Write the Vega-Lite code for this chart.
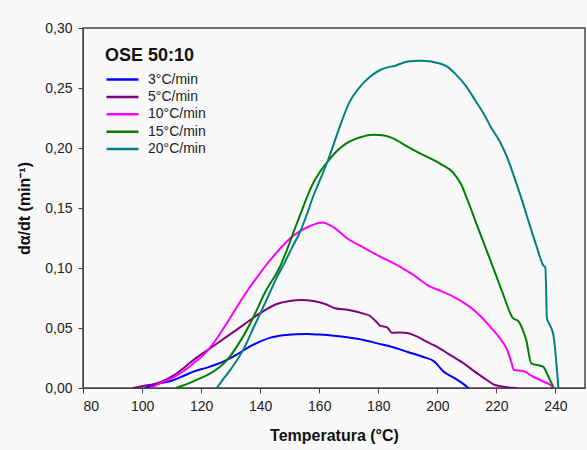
{
  "$schema": "https://vega.github.io/schema/vega-lite/v6.json",
  "autosize": {"type": "none"},
  "padding": {"left": 83, "top": 28, "right": 2, "bottom": 62},
  "width": 502,
  "height": 360,
  "background": "#f9f9f9",
  "config": {
    "font": "Liberation Sans",
    "view": {"stroke": "#444444", "strokeWidth": 1.5},
    "axis": {"grid": false, "domainColor": "#444444", "tickColor": "#444444", "tickSize": 5, "labelFontSize": 14, "labelColor": "#222222", "titleFontSize": 16, "titleFontWeight": "bold", "titleColor": "#111111"}
  },
  "data": {"values": [
    {"T":101,"r":0,"s":"3°C/min"},{"T":106,"r":0.004,"s":"3°C/min"},{"T":110,"r":0.006,"s":"3°C/min"},{"T":114,"r":0.010,"s":"3°C/min"},{"T":117.4,"r":0.0136,"s":"3°C/min"},{"T":122,"r":0.017,"s":"3°C/min"},{"T":127.5,"r":0.022,"s":"3°C/min"},{"T":131.5,"r":0.027,"s":"3°C/min"},{"T":135.4,"r":0.033,"s":"3°C/min"},{"T":139.9,"r":0.0386,"s":"3°C/min"},{"T":143.5,"r":0.042,"s":"3°C/min"},{"T":147.8,"r":0.044,"s":"3°C/min"},{"T":152,"r":0.0448,"s":"3°C/min"},{"T":156,"r":0.045,"s":"3°C/min"},{"T":160,"r":0.0445,"s":"3°C/min"},{"T":165,"r":0.0435,"s":"3°C/min"},{"T":170,"r":0.042,"s":"3°C/min"},{"T":175,"r":0.040,"s":"3°C/min"},{"T":180,"r":0.037,"s":"3°C/min"},{"T":185,"r":0.034,"s":"3°C/min"},{"T":190,"r":0.030,"s":"3°C/min"},{"T":195,"r":0.026,"s":"3°C/min"},{"T":199,"r":0.022,"s":"3°C/min"},{"T":200.5,"r":0.018,"s":"3°C/min"},{"T":202,"r":0.014,"s":"3°C/min"},{"T":206,"r":0.008,"s":"3°C/min"},{"T":209,"r":0.003,"s":"3°C/min"},{"T":210.5,"r":0,"s":"3°C/min"},

    {"T":97,"r":0,"s":"5°C/min"},{"T":100,"r":0.0015,"s":"5°C/min"},{"T":106,"r":0.0047,"s":"5°C/min"},{"T":111,"r":0.011,"s":"5°C/min"},{"T":117.4,"r":0.0233,"s":"5°C/min"},{"T":123,"r":0.033,"s":"5°C/min"},{"T":128.7,"r":0.0428,"s":"5°C/min"},{"T":134,"r":0.052,"s":"5°C/min"},{"T":139.9,"r":0.0622,"s":"5°C/min"},{"T":145.6,"r":0.0700,"s":"5°C/min"},{"T":150,"r":0.0725,"s":"5°C/min"},{"T":154,"r":0.0733,"s":"5°C/min"},{"T":158,"r":0.0725,"s":"5°C/min"},{"T":162,"r":0.070,"s":"5°C/min"},{"T":165.3,"r":0.0665,"s":"5°C/min"},{"T":170,"r":0.065,"s":"5°C/min"},{"T":175,"r":0.062,"s":"5°C/min"},{"T":177.2,"r":0.060,"s":"5°C/min"},{"T":179,"r":0.056,"s":"5°C/min"},{"T":180.6,"r":0.052,"s":"5°C/min"},{"T":183,"r":0.0505,"s":"5°C/min"},{"T":184.6,"r":0.046,"s":"5°C/min"},{"T":187,"r":0.0462,"s":"5°C/min"},{"T":189,"r":0.046,"s":"5°C/min"},{"T":193,"r":0.043,"s":"5°C/min"},{"T":196,"r":0.039,"s":"5°C/min"},{"T":199.8,"r":0.0345,"s":"5°C/min"},{"T":204,"r":0.028,"s":"5°C/min"},{"T":208.9,"r":0.0206,"s":"5°C/min"},{"T":213,"r":0.013,"s":"5°C/min"},{"T":216.8,"r":0.0067,"s":"5°C/min"},{"T":219,"r":0.003,"s":"5°C/min"},{"T":221.3,"r":0.0014,"s":"5°C/min"},{"T":224,"r":0.0005,"s":"5°C/min"},{"T":227,"r":0,"s":"5°C/min"},

    {"T":102.7,"r":0,"s":"10°C/min"},{"T":106.1,"r":0.0039,"s":"10°C/min"},{"T":110,"r":0.008,"s":"10°C/min"},{"T":114,"r":0.014,"s":"10°C/min"},{"T":117.4,"r":0.0206,"s":"10°C/min"},{"T":121,"r":0.028,"s":"10°C/min"},{"T":124.1,"r":0.037,"s":"10°C/min"},{"T":128.7,"r":0.054,"s":"10°C/min"},{"T":134.3,"r":0.076,"s":"10°C/min"},{"T":139.9,"r":0.0956,"s":"10°C/min"},{"T":145.6,"r":0.113,"s":"10°C/min"},{"T":151.2,"r":0.127,"s":"10°C/min"},{"T":156.9,"r":0.135,"s":"10°C/min"},{"T":161,"r":0.138,"s":"10°C/min"},{"T":164.8,"r":0.134,"s":"10°C/min"},{"T":169.3,"r":0.125,"s":"10°C/min"},{"T":175,"r":0.117,"s":"10°C/min"},{"T":180.6,"r":0.1095,"s":"10°C/min"},{"T":187.4,"r":0.101,"s":"10°C/min"},{"T":192,"r":0.094,"s":"10°C/min"},{"T":197.6,"r":0.0844,"s":"10°C/min"},{"T":201,"r":0.081,"s":"10°C/min"},{"T":205.5,"r":0.076,"s":"10°C/min"},{"T":209,"r":0.071,"s":"10°C/min"},{"T":212.3,"r":0.065,"s":"10°C/min"},{"T":215,"r":0.059,"s":"10°C/min"},{"T":217.9,"r":0.051,"s":"10°C/min"},{"T":221,"r":0.042,"s":"10°C/min"},{"T":223.6,"r":0.032,"s":"10°C/min"},{"T":225,"r":0.022,"s":"10°C/min"},{"T":225.9,"r":0.015,"s":"10°C/min"},{"T":229.3,"r":0.014,"s":"10°C/min"},{"T":232,"r":0.010,"s":"10°C/min"},{"T":236,"r":0.0053,"s":"10°C/min"},{"T":238,"r":0.003,"s":"10°C/min"},{"T":239.4,"r":0,"s":"10°C/min"},

    {"T":111.5,"r":0,"s":"15°C/min"},{"T":116,"r":0.004,"s":"15°C/min"},{"T":119.6,"r":0.008,"s":"15°C/min"},{"T":123,"r":0.012,"s":"15°C/min"},{"T":128.7,"r":0.023,"s":"15°C/min"},{"T":133,"r":0.038,"s":"15°C/min"},{"T":137.7,"r":0.059,"s":"15°C/min"},{"T":141.5,"r":0.079,"s":"15°C/min"},{"T":146.7,"r":0.101,"s":"15°C/min"},{"T":152.4,"r":0.137,"s":"15°C/min"},{"T":158,"r":0.171,"s":"15°C/min"},{"T":163.6,"r":0.191,"s":"15°C/min"},{"T":169.3,"r":0.204,"s":"15°C/min"},{"T":174,"r":0.209,"s":"15°C/min"},{"T":178.3,"r":0.211,"s":"15°C/min"},{"T":182,"r":0.2105,"s":"15°C/min"},{"T":185,"r":0.208,"s":"15°C/min"},{"T":190,"r":0.201,"s":"15°C/min"},{"T":194.1,"r":0.1956,"s":"15°C/min"},{"T":200.9,"r":0.187,"s":"15°C/min"},{"T":205.5,"r":0.179,"s":"15°C/min"},{"T":208,"r":0.170,"s":"15°C/min"},{"T":210,"r":0.158,"s":"15°C/min"},{"T":214,"r":0.132,"s":"15°C/min"},{"T":218.8,"r":0.101,"s":"15°C/min"},{"T":222,"r":0.080,"s":"15°C/min"},{"T":225.7,"r":0.058,"s":"15°C/min"},{"T":227.3,"r":0.056,"s":"15°C/min"},{"T":229,"r":0.048,"s":"15°C/min"},{"T":230.1,"r":0.040,"s":"15°C/min"},{"T":231.8,"r":0.0206,"s":"15°C/min"},{"T":235.8,"r":0.0178,"s":"15°C/min"},{"T":237.5,"r":0.010,"s":"15°C/min"},{"T":239.4,"r":0,"s":"15°C/min"},

    {"T":125.3,"r":0,"s":"20°C/min"},{"T":128,"r":0.009,"s":"20°C/min"},{"T":131,"r":0.019,"s":"20°C/min"},{"T":134.3,"r":0.032,"s":"20°C/min"},{"T":137.7,"r":0.050,"s":"20°C/min"},{"T":140,"r":0.062,"s":"20°C/min"},{"T":143,"r":0.078,"s":"20°C/min"},{"T":145.6,"r":0.092,"s":"20°C/min"},{"T":148,"r":0.103,"s":"20°C/min"},{"T":151,"r":0.118,"s":"20°C/min"},{"T":153.5,"r":0.130,"s":"20°C/min"},{"T":156,"r":0.146,"s":"20°C/min"},{"T":158,"r":0.160,"s":"20°C/min"},{"T":160,"r":0.172,"s":"20°C/min"},{"T":163,"r":0.190,"s":"20°C/min"},{"T":167,"r":0.218,"s":"20°C/min"},{"T":170,"r":0.237,"s":"20°C/min"},{"T":173.8,"r":0.251,"s":"20°C/min"},{"T":177,"r":0.259,"s":"20°C/min"},{"T":180.6,"r":0.265,"s":"20°C/min"},{"T":186.2,"r":0.269,"s":"20°C/min"},{"T":190,"r":0.272,"s":"20°C/min"},{"T":194.1,"r":0.2728,"s":"20°C/min"},{"T":198,"r":0.272,"s":"20°C/min"},{"T":203.2,"r":0.268,"s":"20°C/min"},{"T":206,"r":0.262,"s":"20°C/min"},{"T":209.9,"r":0.251,"s":"20°C/min"},{"T":213,"r":0.239,"s":"20°C/min"},{"T":215.6,"r":0.229,"s":"20°C/min"},{"T":218,"r":0.218,"s":"20°C/min"},{"T":221,"r":0.206,"s":"20°C/min"},{"T":223.5,"r":0.193,"s":"20°C/min"},{"T":226,"r":0.176,"s":"20°C/min"},{"T":228.6,"r":0.157,"s":"20°C/min"},{"T":231,"r":0.138,"s":"20°C/min"},{"T":233.6,"r":0.118,"s":"20°C/min"},{"T":235.8,"r":0.1025,"s":"20°C/min"},{"T":236.6,"r":0.100,"s":"20°C/min"},{"T":237.1,"r":0.058,"s":"20°C/min"},{"T":238.2,"r":0.052,"s":"20°C/min"},{"T":239.3,"r":0.044,"s":"20°C/min"},{"T":241,"r":0,"s":"20°C/min"}
  ]},
  "mark": {"type": "line", "strokeWidth": 2, "clip": true, "interpolate": "monotone"},
  "encoding": {
    "x": {"field": "T", "type": "quantitative", "scale": {"domain": [80, 250], "nice": false, "zero": false},
      "axis": {"title": "Temperatura (°C)", "values": [80,100,120,140,160,180,200,220,240], "labelPadding": 6, "titlePadding": 14}},
    "y": {"field": "r", "type": "quantitative", "scale": {"domain": [0, 0.3], "nice": false},
      "axis": {"title": "dα/dt (min⁻¹)", "values": [0,0.05,0.1,0.15,0.2,0.25,0.3], "labelExpr": "replace(format(datum.value, '.2f'), '.', ',')", "labelPadding": 6, "titlePadding": 12}},
    "color": {"field": "s", "type": "nominal",
      "scale": {"domain": ["3°C/min","5°C/min","10°C/min","15°C/min","20°C/min"], "range": ["#0000ff","#800080","#ff00ff","#008000","#008080"]},
      "legend": {"title": "OSE 50:10", "orient": "none", "legendX": 22, "legendY": 19, "padding": 0,
        "titleFontSize": 18, "titleFontWeight": "bold", "titleColor": "#111111", "titlePadding": 5,
        "labelFontSize": 14, "labelColor": "#222222", "labelOffset": 24,
        "symbolType": "M-1,0L3,0", "symbolSize": 256, "symbolStrokeWidth": 2.5, "rowPadding": 0.4}}
  }
}
